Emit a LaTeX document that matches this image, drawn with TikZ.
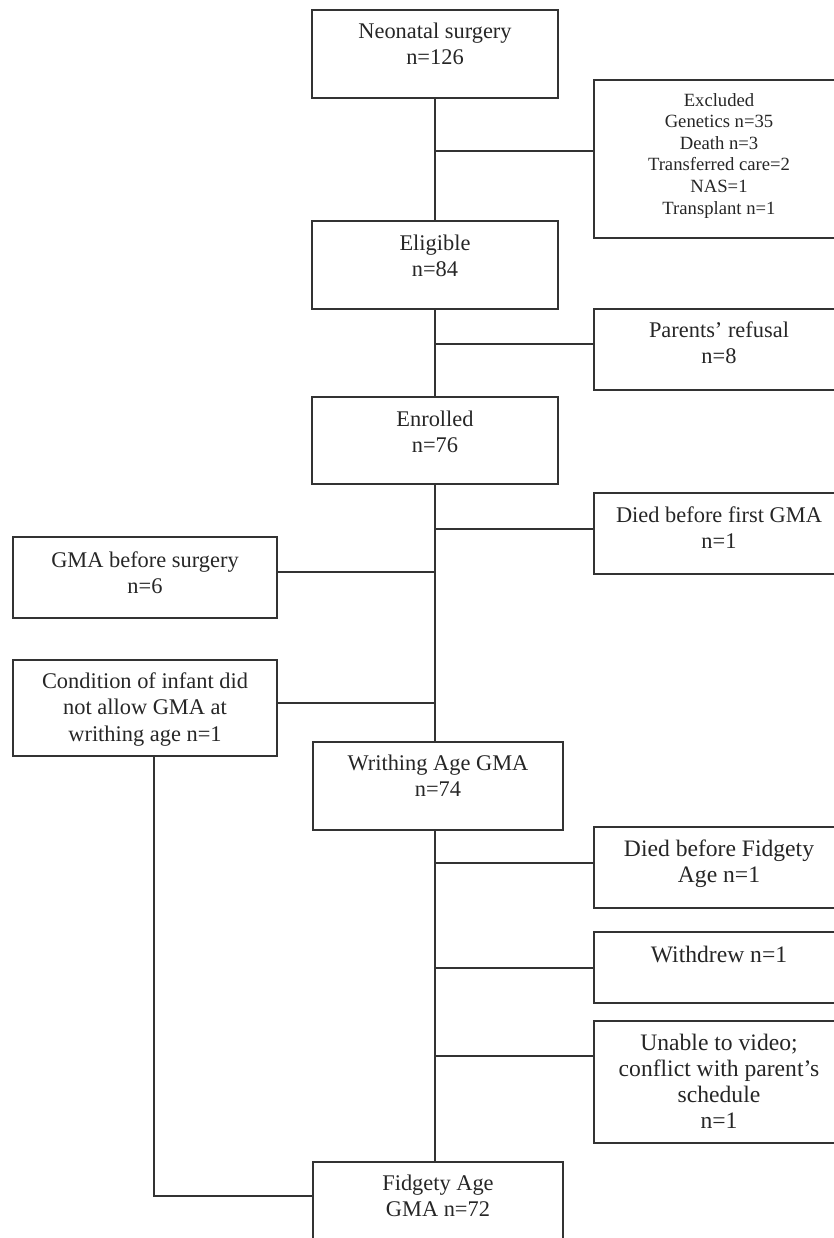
\documentclass[tikz,border=0pt]{standalone}
\usepackage{fontspec}
\setmainfont{Liberation Serif}
\usepackage{tikz}
\usetikzlibrary{positioning,calc}

% text of a box, set from the top: [first baseline]{width}{height}{lines}
\newcommand{\boxtext}[4][21.75pt]{\parbox[c][#3][t]{#2}{\centering\rule{0pt}{#1}#4}}

\begin{document}
\begin{tikzpicture}[
    x=0.75pt,y=-0.75pt,
    box/.style={rectangle,draw=black!80,line width=1.3pt,inner sep=0pt,outer sep=0pt,anchor=north west,text=black!85,font=\fontsize{16.8}{19.5}\selectfont},
    smallbox/.style={box,font=\fontsize{14}{16.2}\selectfont},
    widebox/.style={box,font=\fontsize{17.7}{19.7}\selectfont},
    link/.style={draw=black!80,line width=1.3pt}
  ]
    \useasboundingbox (0,0) rectangle (833,1238);

    % main column
    \node[box] (surgery) at (312,10) {\boxtext{184.5pt}{66pt}{Neonatal surgery\\n=126}};
    \node[box] (eligible) at (312,221) {\boxtext{184.5pt}{66pt}{Eligible\\n=84}};
    \node[box] (enrolled) at (312,397) {\boxtext{184.5pt}{65.25pt}{Enrolled\\n=76}};
    \node[box] (writhing) at (313,742) {\boxtext[21pt]{187.5pt}{66pt}{Writhing Age GMA\\n=74}};
    \node[box] (fidgety) at (313,1162) {\boxtext[21pt]{187.5pt}{66pt}{Fidgety Age\\GMA n=72}};

    % side boxes
    \node[smallbox] (excluded) at (594,80) {\boxtext[19.5pt]{187.5pt}{118.5pt}{Excluded\\Genetics n=35\\Death n=3\\Transferred care=2\\NAS=1\\Transplant n=1}};
    \node[box] (refusal) at (594,309) {\boxtext[21pt]{187.5pt}{60.75pt}{Parents’ refusal\\n=8}};
    \node[box] (diedfirst) at (594,493) {\boxtext{187.5pt}{60.75pt}{Died before first GMA\\n=1}};
    \node[box] (presurgery) at (13,537) {\boxtext[22.5pt]{198pt}{60.75pt}{GMA before surgery\\n=6}};
    \node[box,font=\fontsize{16.8}{20}\selectfont] (condition) at (13,660) {\boxtext[21pt]{198pt}{72pt}{Condition of infant did\\not allow GMA at\\writhing age n=1}};
    \node[widebox] (diedfidgety) at (594,827) {\boxtext{187.5pt}{60.75pt}{Died before Fidgety\\Age n=1}};
    \node[widebox] (withdrew) at (594,932) {\boxtext[22.5pt]{187.5pt}{53.25pt}{Withdrew n=1}};
    \node[widebox] (unable) at (594,1021) {\boxtext{187.5pt}{91.5pt}{Unable to video;\\conflict with parent’s\\schedule\\n=1}};

    % trunk
    \draw[link] (surgery.south) -- (eligible.north);
    \draw[link] (eligible.south) -- (enrolled.north);
    \draw[link] (enrolled.south) -- (enrolled.south |- writhing.north);
    \draw[link] (enrolled.south |- writhing.south) -- (enrolled.south |- fidgety.north);

    % branches
    \coordinate (b1) at (435,151);
    \coordinate (b2) at (435,344);
    \coordinate (b3) at (435,529);
    \coordinate (b4) at (435,572);
    \coordinate (b5) at (435,703);
    \coordinate (b6) at (435,863);
    \coordinate (b7) at (435,968);
    \coordinate (b8) at (435,1056);
    \draw[link] (b1) -- (b1 -| excluded.west);
    \draw[link] (b2) -- (b2 -| refusal.west);
    \draw[link] (b3) -- (b3 -| diedfirst.west);
    \draw[link] (b4) -- (b4 -| presurgery.east);
    \draw[link] (b5) -- (b5 -| condition.east);
    \draw[link] (b6) -- (b6 -| diedfidgety.west);
    \draw[link] (b7) -- (b7 -| withdrew.west);
    \draw[link] (b8) -- (b8 -| unable.west);

    % condition joins at fidgety age
    \coordinate (drop) at (154,1196);
    \draw[link] (condition.south -| drop) -- (drop) -- (drop -| fidgety.west);
  \end{tikzpicture}
\end{document}
